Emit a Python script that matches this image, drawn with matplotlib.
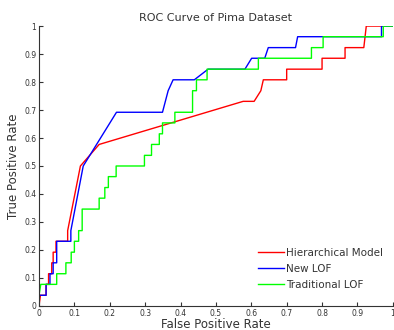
import matplotlib
matplotlib.use("Agg")
import matplotlib.pyplot as plt

hier_fpr = [0, 0.004, 0.02, 0.02, 0.027, 0.027, 0.036, 0.036, 0.04, 0.04, 0.048, 0.048, 0.081, 0.081,
            0.117, 0.17, 0.577, 0.608, 0.627, 0.634, 0.70, 0.70, 0.80, 0.80, 0.865, 0.865, 0.918, 0.925, 1.0]
hier_tpr = [0, 0.038, 0.038, 0.077, 0.077, 0.115, 0.115, 0.154, 0.154, 0.192, 0.192, 0.231, 0.231, 0.269,
            0.5, 0.577, 0.731, 0.731, 0.769, 0.808, 0.808, 0.846, 0.846, 0.885, 0.885, 0.923, 0.923, 1.0, 1.0]

new_fpr = [0, 0, 0.02, 0.02, 0.031, 0.031, 0.04, 0.04, 0.05, 0.05, 0.09, 0.09, 0.125, 0.219, 0.349,
           0.365, 0.379, 0.439, 0.478, 0.582, 0.601, 0.638, 0.648, 0.725, 0.731, 0.968, 0.968, 1.0]
new_tpr = [0, 0.038, 0.038, 0.077, 0.077, 0.115, 0.115, 0.154, 0.154, 0.231, 0.231, 0.269, 0.5, 0.692,
           0.692, 0.769, 0.808, 0.808, 0.846, 0.846, 0.885, 0.885, 0.923, 0.923, 0.962, 0.962, 1.0, 1.0]

trad_fpr = [0, 0, 0.005, 0.05, 0.05, 0.076, 0.076, 0.091, 0.091, 0.1, 0.1, 0.112, 0.112, 0.122, 0.122,
            0.17, 0.17, 0.186, 0.186, 0.196, 0.196, 0.218, 0.218, 0.298, 0.298, 0.318, 0.318, 0.34, 0.34,
            0.349, 0.349, 0.384, 0.384, 0.434, 0.434, 0.445, 0.445, 0.475, 0.475, 0.62, 0.62, 0.77, 0.77,
            0.803, 0.803, 0.973, 0.973, 1.0]
trad_tpr = [0, 0.038, 0.077, 0.077, 0.115, 0.115, 0.154, 0.154, 0.192, 0.192, 0.231, 0.231, 0.269, 0.269,
            0.346, 0.346, 0.385, 0.385, 0.423, 0.423, 0.462, 0.462, 0.5, 0.5, 0.538, 0.538, 0.577, 0.577,
            0.615, 0.615, 0.654, 0.654, 0.692, 0.692, 0.769, 0.769, 0.808, 0.808, 0.846, 0.846, 0.885, 0.885,
            0.923, 0.923, 0.962, 0.962, 1.0, 1.0]

ticks = [0, 0.1, 0.2, 0.3, 0.4, 0.5, 0.6, 0.7, 0.8, 0.9, 1]
tick_labels = ["0", "0.1", "0.2", "0.3", "0.4", "0.5", "0.6", "0.7", "0.8", "0.9", "1"]

fig = plt.figure(figsize=(3.94, 3.30), dpi=100)
ax = fig.add_axes([0.099, 0.073, 0.898, 0.848])

ax.plot(hier_fpr, hier_tpr, color="#ff0000", lw=1.0, label="Hierarchical Model")
ax.plot(new_fpr, new_tpr, color="#0000ff", lw=1.0, label="New LOF")
ax.plot(trad_fpr, trad_tpr, color="#00ff00", lw=1.0, label="Traditional LOF")

ax.set_xlim(0, 1)
ax.set_ylim(0, 1)
ax.set_xticks(ticks)
ax.set_xticklabels(tick_labels)
ax.set_yticks(ticks)
ax.set_yticklabels(tick_labels)
ax.tick_params(direction="in", length=3, width=0.8, labelsize=5.5, colors="#333333", pad=2)
for s in ["top", "right"]:
    ax.spines[s].set_visible(False)
for s in ["left", "bottom"]:
    ax.spines[s].set_color("#333333")
    ax.spines[s].set_linewidth(0.8)

ax.set_title("ROC Curve of Pima Dataset", fontsize=8, color="#333333", pad=4)
ax.set_xlabel("False Positive Rate", fontsize=8.5, color="#333333", labelpad=0)
ax.set_ylabel("True Positive Rate", fontsize=8.5, color="#333333", labelpad=3)

leg = ax.legend(loc="lower right", frameon=False, fontsize=7.5, handlelength=2.5,
                handletextpad=0.2, labelspacing=0.55, bbox_to_anchor=(1.0, 0.025))
for t in leg.get_texts():
    t.set_color("#333333")

fig.savefig("out.png", dpi=100)
